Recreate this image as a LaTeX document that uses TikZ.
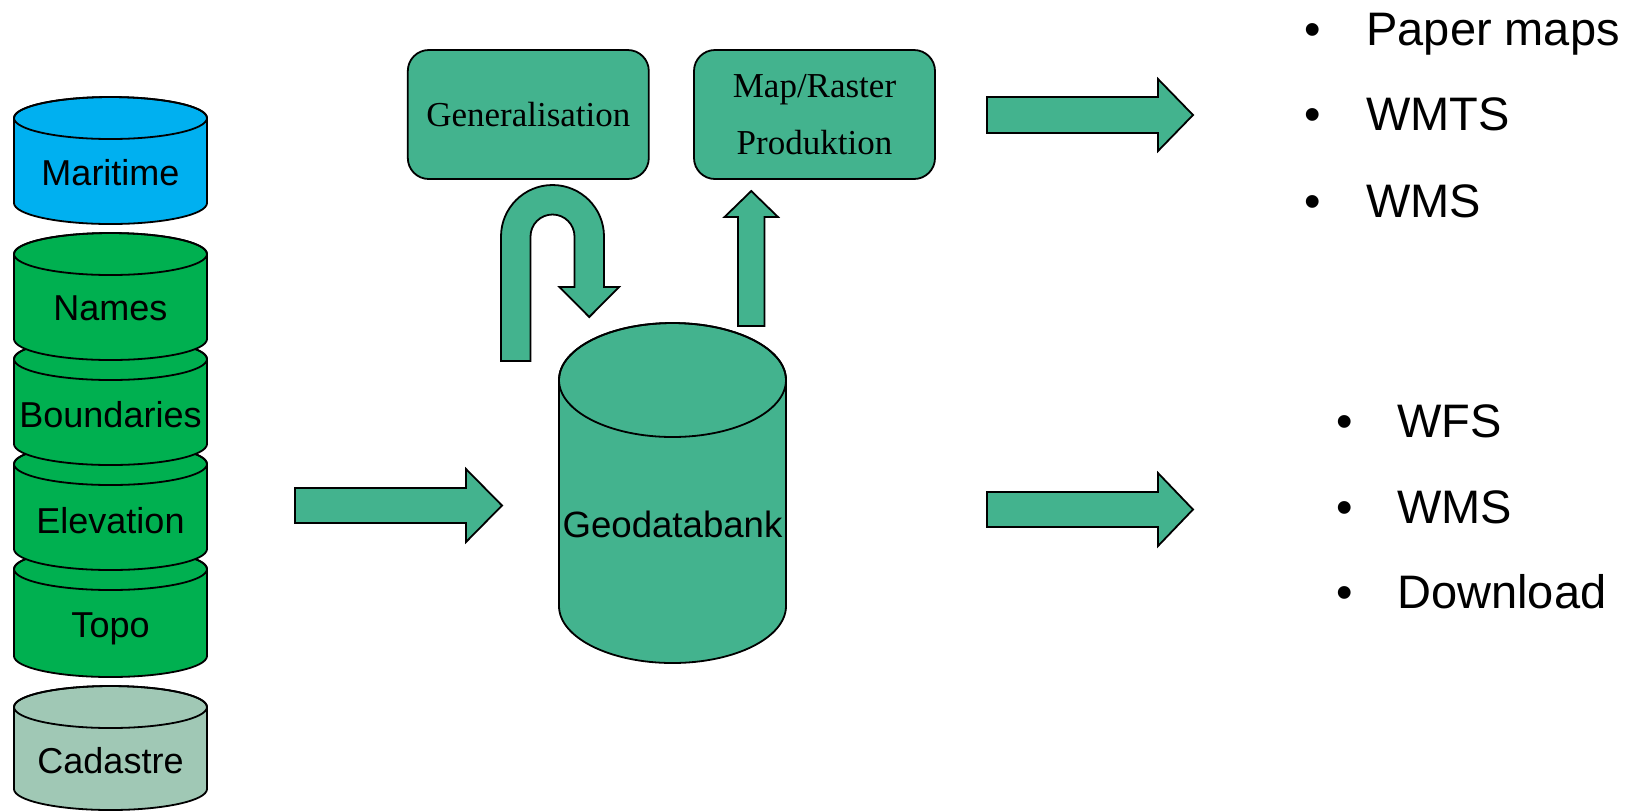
\documentclass[tikz,border=0pt]{standalone}
\usepackage{fontspec}
\setmainfont{Liberation Serif}
\newfontfamily\sansf{Liberation Sans}
\definecolor{tealg}{HTML}{43B38E}
\definecolor{mblue}{HTML}{00B0F0}
\definecolor{mgreen}{HTML}{00B050}
\definecolor{cgray}{HTML}{A0C8B5}
\newcommand{\dbcylinder}[6]{% #1 cx, #2 yct, #3 ycb, #4 rx, #5 ry, #6 color
  \filldraw[cyl, fill=#6] (#1-#4,#2) -- (#1-#4,#3)
    arc[start angle=180,end angle=0,x radius=#4,y radius=#5] -- (#1+#4,#2)
    arc[start angle=0,end angle=-180,x radius=#4,y radius=#5] -- cycle;
  \draw[cyl] (#1,#2) ellipse[x radius=#4,y radius=#5];
}
\begin{document}
\begin{tikzpicture}[x=0.5pt,y=-0.5pt,
  cyl/.style={draw=black, line width=0.9pt},
  lab/.style={anchor=base, inner sep=0pt, font=\sansf\fontsize{18}{21}\selectfont},
  biglab/.style={anchor=base, inner sep=0pt, font=\sansf\fontsize{18.3}{21}\selectfont},
  procbox/.style={draw=black, fill=tealg, line width=0.9pt, rounded corners=10.5pt,
    minimum width=120.5pt, minimum height=64.5pt, align=center, inner sep=0pt,
    font=\fontsize{17.5}{28.5}\selectfont},
  blk/.style={draw=black, fill=tealg, line width=0.9pt, line join=miter},
  item/.style={anchor=base west, inner sep=0pt, font=\sansf\fontsize{23.5}{28}\selectfont},
  bul/.style={anchor=base, inner sep=0pt, font=\sansf\fontsize{23.5}{28}\selectfont}]
\useasboundingbox (0,0) rectangle (1637,811);

% ---- left stack of databases ----
\dbcylinder{110.5}{707}{789}{96.5}{21}{cgray}
\dbcylinder{110.5}{569}{656}{96.5}{21}{mgreen}
\dbcylinder{110.5}{464}{549}{96.5}{21}{mgreen}
\dbcylinder{110.5}{359}{444}{96.5}{21}{mgreen}
\dbcylinder{110.5}{254}{339}{96.5}{21}{mgreen}
\dbcylinder{110.5}{118}{203}{96.5}{21}{mblue}

\node[lab] (maritime) at (110.5,185) {Maritime};
\node[lab] (names) at (110.5,320) {Names};
\node[lab] (boundaries) at (110.5,427) {Boundaries};
\node[lab] (elevation) at (110.5,533) {Elevation};
\node[lab] (topo) at (110.5,637) {Topo};
\node[lab] (cadastre) at (110.5,773) {Cadastre};

% ---- central database ----
\dbcylinder{672.5}{380}{606}{113.5}{57}{tealg}
\node[biglab] (geo) at (672.5,537) {Geodatabank};

% ---- process boxes ----
\node[procbox] (gen) at (528.3,114.5) {Generalisation};
\node[procbox] (map) at (814.5,114.5) {Map/Raster\\Produktion};

% ---- block arrows ----
% stack -> Geodatabank
\filldraw[blk] (295,488) -- (466,488) -- (466,469) -- (502,505.5) -- (466,542)
  -- (466,523) -- (295,523) -- cycle;
% U-turn: Geodatabank -> Generalisation -> Geodatabank
\filldraw[blk] (501,361) -- (501,236.5) arc[start angle=180,end angle=360,radius=51.5]
  -- (604,287) -- (619,287) -- (589.25,317) -- (559.5,287) -- (574.5,287) -- (574.5,236.5)
  arc[start angle=0,end angle=-180,radius=22] -- (530.5,361) -- cycle;
% Geodatabank -> Map/Raster
\filldraw[blk] (738,326) -- (738,217) -- (724.5,217) -- (751.25,191) -- (778,217)
  -- (764.5,217) -- (764.5,326) -- cycle;
% outputs
\filldraw[blk] (987,97) -- (1158,97) -- (1158,79) -- (1193,115) -- (1158,151)
  -- (1158,133) -- (987,133) -- cycle;
\filldraw[blk] (987,492) -- (1158,492) -- (1158,473) -- (1193,509.5) -- (1158,546)
  -- (1158,527) -- (987,527) -- cycle;

% ---- output lists ----
\node[bul] (b1) at (1313,45) {•};
\node[item] (paper) at (1366,45) {Paper maps};
\node[bul] (b2) at (1313,130) {•};
\node[item] (wmts) at (1366,130) {WMTS};
\node[bul] (b3) at (1313,217) {•};
\node[item] (wms1) at (1366,217) {WMS};

\node[bul] (b4) at (1345,437) {•};
\node[item] (wfs) at (1397,437) {WFS};
\node[bul] (b5) at (1345,523) {•};
\node[item] (wms2) at (1397,523) {WMS};
\node[bul] (b6) at (1345,608) {•};
\node[item] (download) at (1397,608) {Download};
\end{tikzpicture}
\end{document}
